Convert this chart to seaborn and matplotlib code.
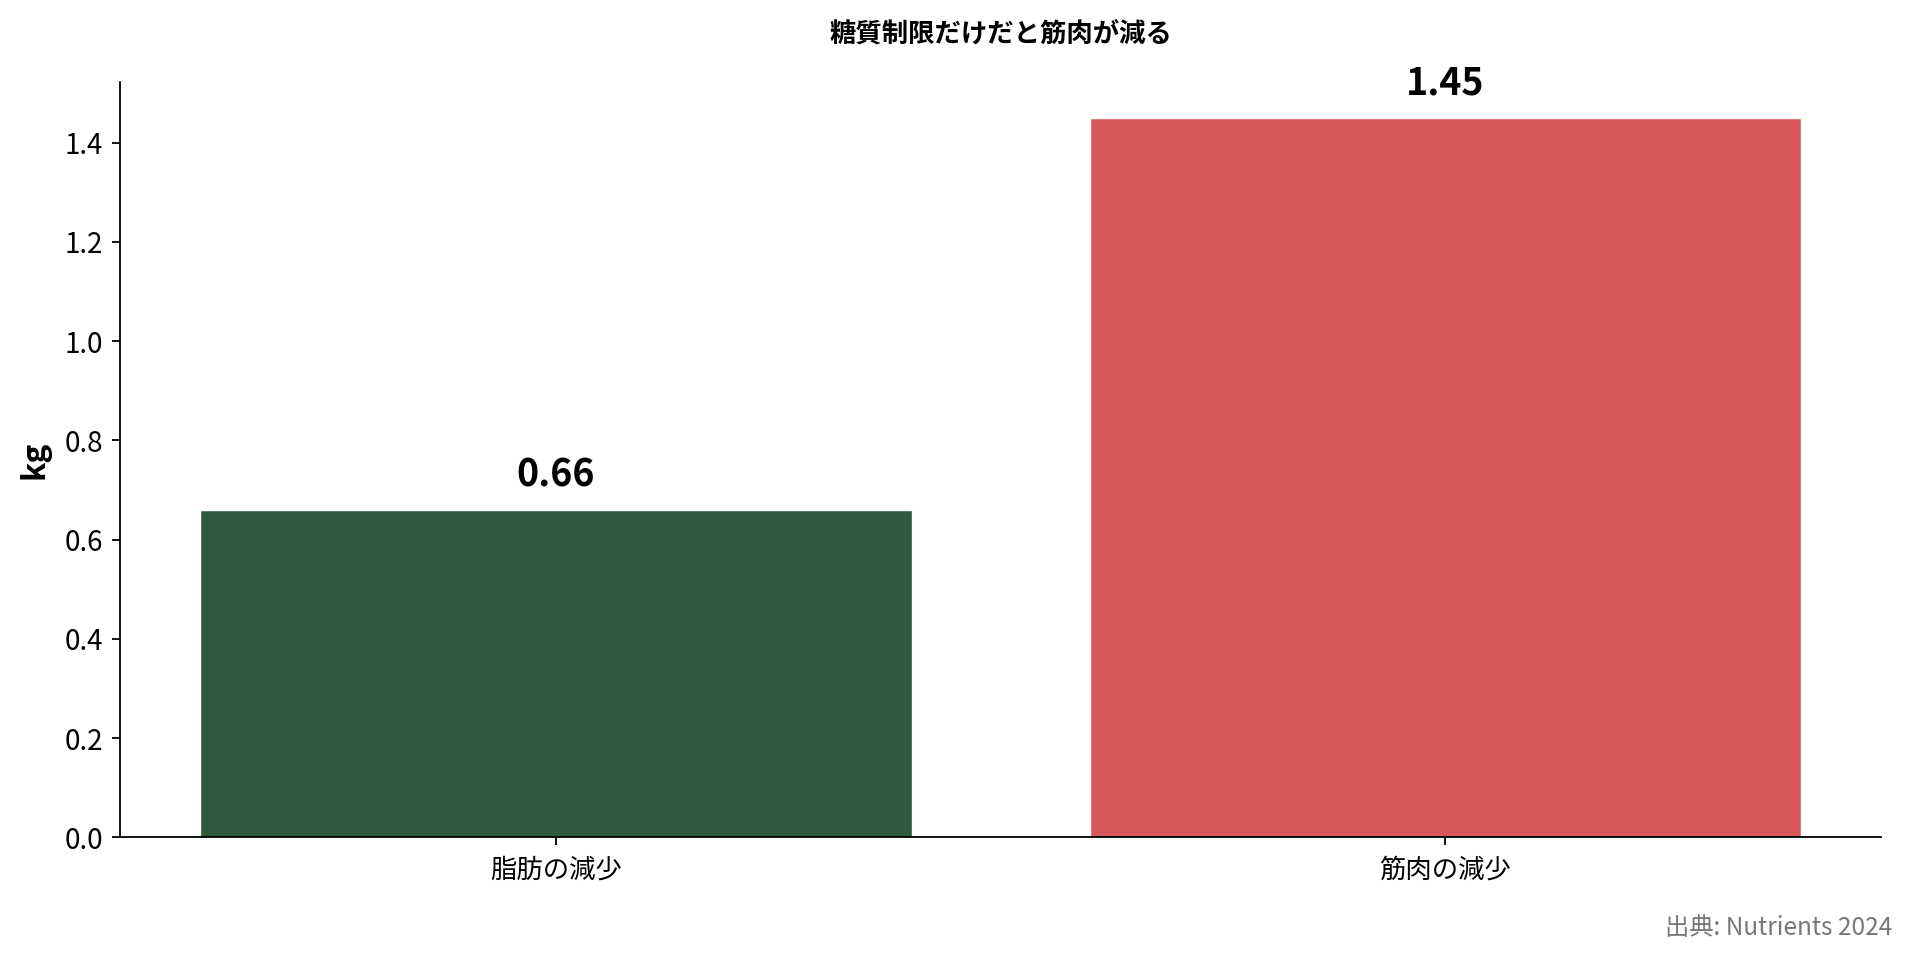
import matplotlib
matplotlib.use("Agg")
import matplotlib.pyplot as plt
import seaborn as sns
import pandas as pd

categories = ["脂肪の減少", "筋肉の減少"]
values = [0.66, 1.45]
colors = ["#2E5B3E", "#D9585A"]
title = "糖質制限だけだと筋肉が減る"
ylabel = "kg"
source = "出典: Nutrients 2024"
yticks = [0, 0.2, 0.4, 0.6, 0.8, 1.0, 1.2, 1.4]

sns.set_theme(style="white")
plt.rcParams['font.family'] = ['Noto Sans CJK JP', 'DejaVu Sans']
plt.rcParams['text.color'] = 'black'
plt.rcParams['axes.labelcolor'] = 'black'
plt.rcParams['xtick.color'] = 'black'
plt.rcParams['ytick.color'] = 'black'

df = pd.DataFrame({"cat": categories, "val": values})

fig = plt.figure(figsize=(19.10, 9.59), dpi=100)
ax = fig.add_axes([0.0628, 0.127, 0.9222, 0.7875])

sns.barplot(data=df, x="cat", y="val", hue="cat", palette=colors, legend=False,
            width=0.8, edgecolor="white", linewidth=1, saturation=1, ax=ax)

for i, v in enumerate(values):
    ax.annotate(f"{v:.2f}", (i, v), xytext=(0, 11), textcoords="offset points",
                ha="center", va="bottom", fontsize=27, fontweight="bold", color="black")

ax.set_ylim(0, max(values) * 1.05)
ax.set_xlim(-0.49, 1.49)
ax.set_yticks(yticks)
ax.set_yticklabels([f"{t:.1f}" for t in yticks])
ax.set_xlabel("")
ax.set_ylabel(ylabel, fontsize=23, fontweight="bold", labelpad=10, color="black")
ax.set_title(title, fontsize=19, fontweight="bold", pad=29, color="black")

for s in ["top", "right"]:
    ax.spines[s].set_visible(False)
for s in ["left", "bottom"]:
    ax.spines[s].set_color("black")
    ax.spines[s].set_linewidth(1.3)

ax.tick_params(axis="both", which="major", length=6, width=1.3, color="black",
               labelcolor="black", direction="out", left=True, bottom=True)
ax.tick_params(axis="y", labelsize=20, pad=6)
ax.tick_params(axis="x", labelsize=19, pad=8)

fig.text(0.9905, 0.032, source, ha="right", va="center", fontsize=17.5, color="#777777")

fig.savefig("out.png", dpi=100)
